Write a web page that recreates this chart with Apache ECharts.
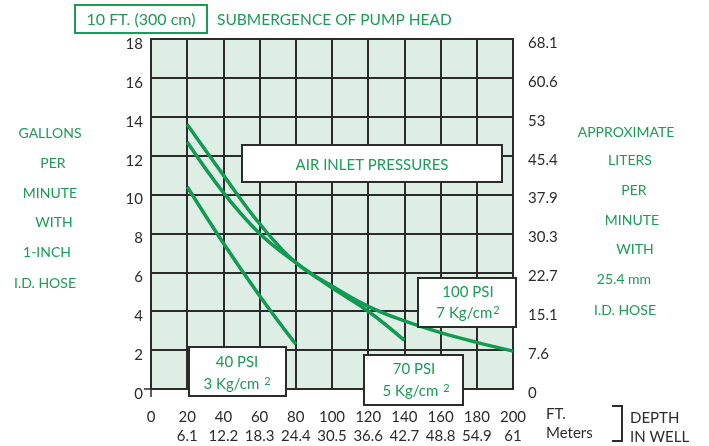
<!DOCTYPE html>
<html>
<head>
<meta charset="utf-8">
<script src="https://cdn.jsdelivr.net/npm/echarts@6/dist/echarts.min.js"></script>
<style>
html, body { margin: 0; padding: 0; background: #fff; }
#chart { width: 709px; height: 446px; }
</style>
</head>
<body>
<div id="chart"></div>
<script>
// depth in well (ft) and matching meters row
const depthFt = [0, 20, 40, 60, 80, 100, 120, 140, 160, 180, 200];
const depthM = ['', '6.1', '12.2', '18.3', '24.4', '30.5', '36.6', '42.7', '48.8', '54.9', '61'];
// right axis: liters per minute for each 2 gpm step
const lpmLabels = ['0', '7.6', '15.1', '22.7', '30.3', '37.9', '45.4', '53', '60.6', '68.1'];

// flow curves [depth ft, gpm]
const psi100 = [[20, 13.6], [40, 11.0], [60, 8.5], [80, 6.5], [100, 5.3], [120, 4.25], [140, 3.5], [160, 2.9], [180, 2.4], [200, 1.95]];
const psi70 = [[20, 12.7], [40, 10.1], [60, 8.0], [80, 6.5], [100, 5.2], [120, 4.0], [140, 2.5]];
const psi40 = [[20, 10.4], [40, 7.5], [60, 4.8], [80, 2.3]];

const leftText = ['GALLONS', 'PER', 'MINUTE', 'WITH', '1-INCH', 'I.D. HOSE'];
const rightText = ['APPROXIMATE', 'LITERS', 'PER', 'MINUTE', 'WITH', '25.4 mm', 'I.D. HOSE'];

const green = '#1a9c55';
const lineGreen = '#119a52';
const dark = '#2b2b2b';
const font = 'Lato';

const chart = echarts.init(document.getElementById('chart'));

function txt(x, y, text, opts) {
	return {
		type: 'text', x: x, y: y, z: 110,
		style: Object.assign({
			text: text, fill: green, fontSize: 14, fontFamily: font,
			align: 'center', verticalAlign: 'middle'
		}, opts || {})
	};
}

function box(x, y, w, h) {
	return {
		type: 'rect', z: 100,
		shape: { x: x, y: y, width: w, height: h },
		style: { fill: '#fff', stroke: dark, lineWidth: 2 }
	};
}

const supRich = {
	sup: { fontSize: 11, fontFamily: font, fill: green, verticalAlign: 'top', padding: [0, 0, 6, 1] }
};

const graphics = [
	// header
	{ type: 'rect', shape: { x: 75, y: 5, width: 132, height: 28 }, style: { fill: 'none', stroke: green, lineWidth: 2 } },
	txt(141, 20, '10 FT. (300 cm)', { fontSize: 16 }),
	txt(217, 20, 'SUBMERGENCE OF PUMP HEAD', { fontSize: 15.5, align: 'left' }),
	// annotation boxes
	box(242, 145, 260, 37),
	txt(372, 165, 'AIR INLET PRESSURES', { fontSize: 15 }),
	box(418, 278, 98, 49),
	txt(468, 292, '100 PSI', { fontSize: 15 }),
	txt(468, 313, '7 Kg/cm{sup|2}', { fontSize: 15, rich: supRich }),
	box(189, 347, 97, 49),
	txt(237, 362, '40 PSI', { fontSize: 15 }),
	txt(237, 384, '3 Kg/cm {sup|2}', { fontSize: 15, rich: supRich }),
	box(364, 355, 99, 50),
	txt(414, 369, '70 PSI', { fontSize: 15 }),
	txt(416, 391, '5 Kg/cm {sup|2}', { fontSize: 15, rich: supRich }),
	// depth bracket
	{ type: 'polyline', shape: { points: [[612, 406], [622, 406], [622, 441], [612, 441]] }, style: { stroke: dark, lineWidth: 2, fill: 'none' } },
	txt(630, 418, 'DEPTH', { fontSize: 15, fill: dark, align: 'left' }),
	txt(630, 437, 'IN WELL', { fontSize: 15, fill: dark, align: 'left' })
];

const leftX = [50, 53, 50, 54, 47, 45];
const leftY = [133, 163, 193, 222, 252, 283];
leftText.forEach((t, i) => graphics.push(txt(leftX[i], leftY[i], t)));
const rightX = [626, 630, 634, 632, 635, 624, 625];
const rightY = [132, 160, 190, 220, 249, 279, 310];
rightText.forEach((t, i) => graphics.push(txt(rightX[i], rightY[i], t)));

const lineSeries = (data) => ({
	type: 'line',
	data: data,
	smooth: 0.4,
	showSymbol: false,
	silent: true,
	lineStyle: { color: lineGreen, width: 3.5 },
	z: 5
});

// extra axes only for the small cross at the origin
const originTickX = {
	type: 'value', min: 0, max: 200, interval: 20, position: 'bottom',
	axisLine: { show: false },
	axisTick: { show: true, customValues: [0], length: 8, lineStyle: { color: dark, width: 1.5 } },
	splitLine: { show: false },
	axisLabel: { show: false }
};
const originTickY = {
	type: 'value', min: 0, max: 18, interval: 2, position: 'left',
	axisLine: { show: false },
	axisTick: { show: true, customValues: [0], length: 7, lineStyle: { color: dark, width: 1.5 } },
	splitLine: { show: false },
	axisLabel: { show: false }
};

chart.setOption({
	animation: false,
	grid: {
		left: 151, right: 196, top: 39, bottom: 47,
		show: true, backgroundColor: '#dfeee4', borderColor: dark, borderWidth: 2
	},
	graphic: graphics,
	xAxis: [
		{
			type: 'value', min: 0, max: 200, interval: 20,
			name: 'FT.\nMeters',
			nameLocation: 'end',
			nameGap: 33,
			nameTextStyle: { color: dark, fontSize: 15, fontFamily: font, align: 'left', verticalAlign: 'top', lineHeight: 19, padding: [16, 0, 0, 0] },
			axisLine: { show: true, lineStyle: { color: dark, width: 2 } },
			axisTick: { show: false },
			splitLine: { show: true, lineStyle: { color: dark, width: 2 } },
			axisLabel: {
				color: dark, fontSize: 15, fontFamily: font, lineHeight: 19, margin: 12, padding: [7, 0, 0, 0],
				formatter: (v) => v + '\n' + depthM[depthFt.indexOf(v)]
			}
		},
		originTickX
	],
	yAxis: [
		{
			type: 'value', min: 0, max: 18, interval: 2,
			axisLine: { show: true, lineStyle: { color: dark, width: 2 } },
			axisTick: { show: false },
			splitLine: { show: true, lineStyle: { color: dark, width: 2 } },
			axisLabel: { color: dark, fontSize: 15, fontFamily: font, margin: 8, verticalAlign: 'top', lineHeight: 10 }
		},
		{
			type: 'value', min: 0, max: 18, interval: 2, position: 'right',
			axisLine: { show: false },
			axisTick: { show: false },
			splitLine: { show: false },
			axisLabel: {
				color: dark, fontSize: 15, fontFamily: font, margin: 15, verticalAlign: 'top', lineHeight: 8,
				formatter: (v) => lpmLabels[v / 2]
			}
		},
		originTickY
	],
	series: [lineSeries(psi100), lineSeries(psi70), lineSeries(psi40)]
});
</script>
</body>
</html>
